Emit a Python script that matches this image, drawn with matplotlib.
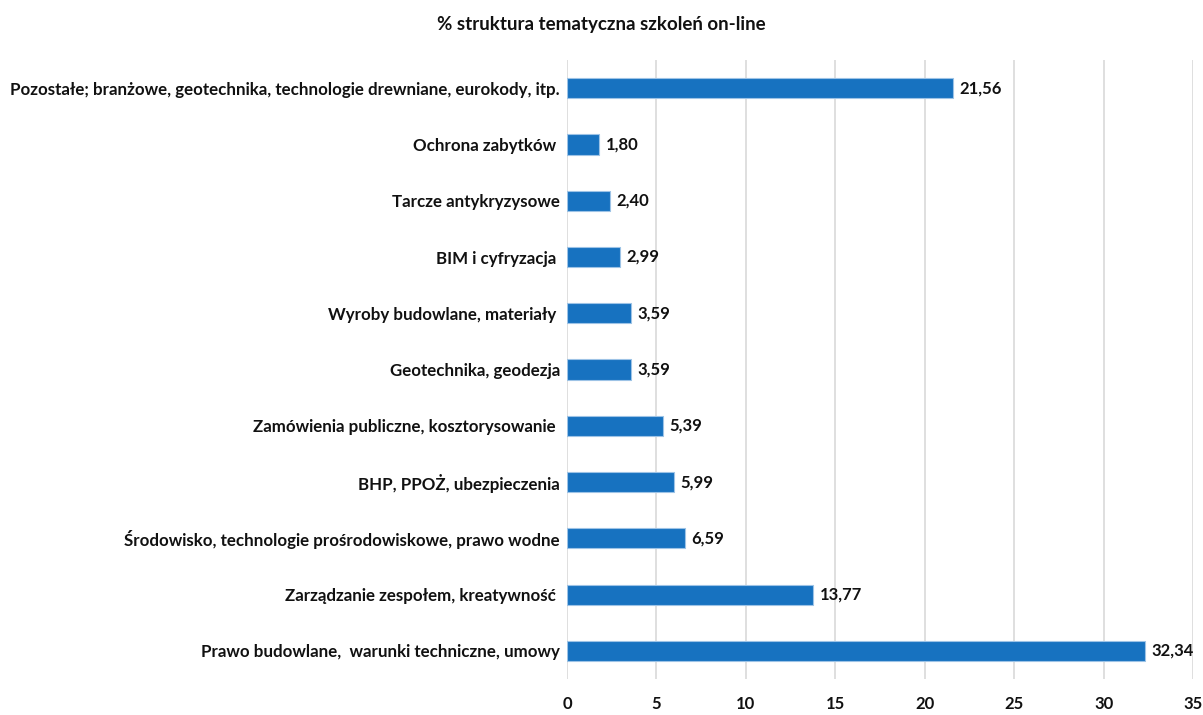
import matplotlib
matplotlib.use("Agg")
import matplotlib.pyplot as plt
from matplotlib.ticker import MultipleLocator

plt.rcParams['font.family'] = ['Lato', 'DejaVu Sans']

# ── Data (bottom to top) ─────────────────────────────────────────────────────
categories = [
    "Prawo budowlane,  warunki techniczne, umowy",
    "Zarządzanie zespołem, kreatywność ",
    "Środowisko, technologie prośrodowiskowe, prawo wodne",
    "BHP, PPOŻ, ubezpieczenia",
    "Zamówienia publiczne, kosztorysowanie ",
    "Geotechnika, geodezja",
    "Wyroby budowlane, materiały ",
    "BIM i cyfryzacja ",
    "Tarcze antykryzysowe",
    "Ochrona zabytków ",
    "Pozostałe; branżowe, geotechnika, technologie drewniane, eurokody, itp.",
]
values = [32.34, 13.77, 6.59, 5.99, 5.39, 3.59, 3.59, 2.99, 2.40, 1.80, 21.56]
title = "% struktura tematyczna szkoleń on-line"

BAR_COLOR = "#1772c0"
GRID_COLOR = "#d9d9d9"
TEXT_COLOR = "#111111"

fig = plt.figure(figsize=(12.03, 7.15), dpi=100)
ax = fig.add_axes([0.4713, 0.0503, 0.5204, 0.8657])

ypos = range(len(categories))
ax.barh(ypos, values, height=0.36, color=BAR_COLOR, edgecolor="#9dc3e6",
        linewidth=0.8, zorder=3)

for y, v in zip(ypos, values):
    ax.text(v + 0.35, y, f"{v:.2f}".replace(".", ","), va="center", ha="left",
            fontsize=12, fontweight="bold", color=TEXT_COLOR)

ax.set_xlim(0, 35)
ax.set_ylim(-0.5, len(categories) - 0.5)
ax.xaxis.set_major_locator(MultipleLocator(5))
ax.set_yticks(list(ypos))
ax.set_yticklabels(categories, fontsize=12.2, fontweight="bold", color=TEXT_COLOR)
for lbl in ax.get_xticklabels():
    lbl.set_fontsize(12)
    lbl.set_fontweight("bold")
    lbl.set_color(TEXT_COLOR)

ax.grid(axis="x", color=GRID_COLOR, linewidth=1.2, zorder=0)
ax.tick_params(axis="both", length=0)
ax.tick_params(axis="y", pad=5)
ax.tick_params(axis="x", pad=12)
for s in ax.spines.values():
    s.set_visible(False)

fig.text(0.5, 0.966, title, ha="center", va="center", fontsize=13.5,
         fontweight="bold", color=TEXT_COLOR)

fig.savefig("out.png", dpi=100, facecolor="white")
